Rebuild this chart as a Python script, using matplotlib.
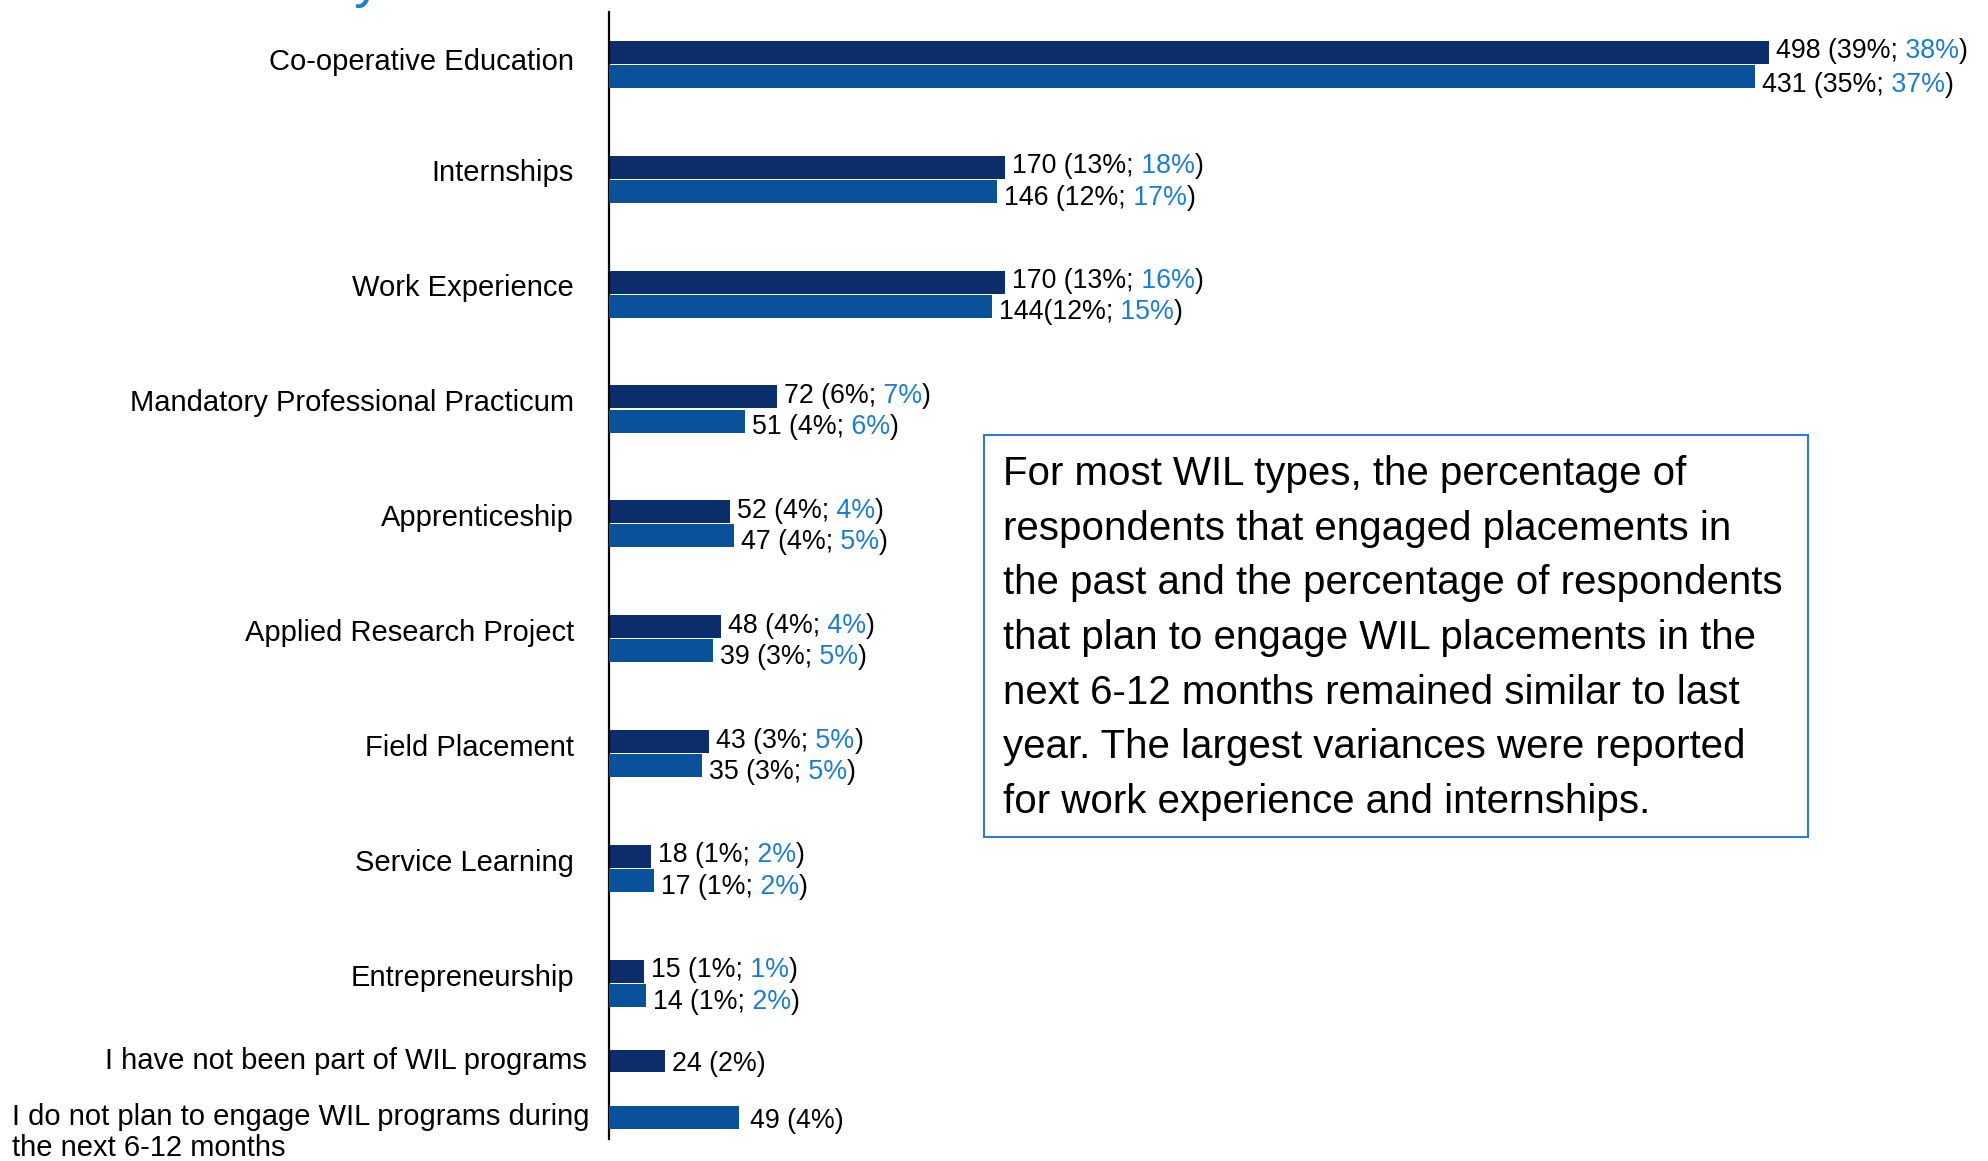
import matplotlib.pyplot as plt
import matplotlib.transforms as mtransforms
from matplotlib.patches import Rectangle

plt.rcParams['font.family'] = ['Liberation Sans', 'DejaVu Sans']

categories = ['Co-operative Education', 'Internships', 'Work Experience',
              'Mandatory Professional Practicum', 'Apprenticeship',
              'Applied Research Project', 'Field Placement', 'Service Learning',
              'Entrepreneurship']
# engaged in the past: count, % this year, % last year
past = [498, 170, 170, 72, 52, 48, 43, 18, 15]
past_pct = [39, 13, 13, 6, 4, 4, 3, 1, 1]
past_prev = [38, 18, 16, 7, 4, 4, 5, 2, 1]
# plan to engage in next 6-12 months
plan = [431, 146, 144, 51, 47, 39, 35, 17, 14]
plan_pct = [35, 12, 12, 4, 4, 3, 3, 1, 1]
plan_prev = [37, 17, 15, 6, 5, 5, 5, 2, 2]

none_past_label = 'I have not been part of WIL programs'
none_past, none_past_pct = 24, 2
none_plan_label = ['I do not plan to engage WIL programs during', 'the next 6-12 months']
none_plan, none_plan_pct = 49, 4

note = ['For most WIL types, the percentage of',
        'respondents that engaged placements in',
        'the past and the percentage of respondents',
        'that plan to engage WIL placements in the',
        'next 6-12 months remained similar to last',
        'year. The largest variances were reported',
        'for work experience and internships.']

DARK = '#0B2D6B'
LIGHT = '#0A519C'
BLUE = '#1C7CD5'

W, H = 1988, 1161
fig = plt.figure(figsize=(W / 100, H / 100), dpi=100)
ax = fig.add_axes([609 / W, 1 - 1139 / H, (1950 - 609) / W, (1139 - 12) / H])
ax2 = ax.twiny()
ax.set_xlim(0, 1341 / 2.33)
ax2.set_xlim(0, 1341 / 2.66)
ax.set_ylim(9.353, -0.455)

for a in (ax, ax2):
    for s in a.spines.values():
        s.set_visible(False)
    a.set_xticks([])
    a.set_yticks([])
ax.spines['left'].set_visible(True)
ax.spines['left'].set_linewidth(1.6)
ax.spines['left'].set_color('black')

pos = list(range(len(categories)))
off = 0.105
bh = 0.2
ax.barh([p - off for p in pos], past, height=bh, color=DARK)
ax2.barh([p + off for p in pos], plan, height=bh, color=LIGHT)
ax.barh([8.672], [none_past], height=0.19, color=DARK)
ax2.barh([9.163], [none_plan], height=0.2, color=LIGHT)


def value_label(a, x, y, parts, gap=5, dy=0):
    t = a.annotate(parts[0][0], xy=(x, y), xytext=(gap, dy), textcoords='offset points',
                   va='center', ha='left', fontsize=19.3, color=parts[0][1])
    for s, c in parts[1:]:
        t = a.annotate(s, xy=(1, 0), xycoords=t, va='bottom', ha='left',
                       fontsize=19.3, color=c)


for i in pos:
    value_label(ax, past[i], i - off,
                [(f'{past[i]} ({past_pct[i]}%;', 'black'), (f' {past_prev[i]}%', BLUE), (')', 'black')],
                dy=0.8)
    sep = '' if plan[i] == 144 else ' '
    value_label(ax2, plan[i], i + off,
                [(f'{plan[i]}{sep}({plan_pct[i]}%;', 'black'), (f' {plan_prev[i]}%', BLUE), (')', 'black')],
                dy=-4.5 if i else -6.5)
value_label(ax, none_past, 8.672, [(f'{none_past} ({none_past_pct}%)', 'black')], dy=-2.5)
value_label(ax2, none_plan, 9.163, [(f'{none_plan} ({none_plan_pct}%)', 'black')], gap=8, dy=-2.5)

# category labels
tr = mtransforms.blended_transform_factory(fig.transFigure, ax.transData)
for i, c in enumerate(categories):
    ax.text(574 / W, i - (0.02 if i == 0 else 0.05), c, transform=tr, ha='right', va='center', fontsize=21)
ax.text(587 / W, 8.67, none_past_label, transform=tr, ha='right', va='center', fontsize=21)
ax.text(12 / W, 9.165, none_plan_label[0], transform=tr, ha='left', va='center', fontsize=21)
ax.text(12 / W, 9.435, none_plan_label[1], transform=tr, ha='left', va='center', fontsize=21)

# text box
fig.patches.append(Rectangle((984 / W, 1 - 837 / H), 824 / W, 402 / H, transform=fig.transFigure,
                             fill=False, edgecolor='#2E7BCF', linewidth=1.5))
for k, line in enumerate(note):
    fig.text(1003 / W, 1 - (474 + 54.7 * k) / H, line, ha='left', va='center', fontsize=29)

# tail of the cut-off title above the chart
fig.text(354 / W, 1 + 4 / H, 'y', color=BLUE, fontsize=40, ha='left', va='baseline')

fig.savefig('out.png', dpi=100)
